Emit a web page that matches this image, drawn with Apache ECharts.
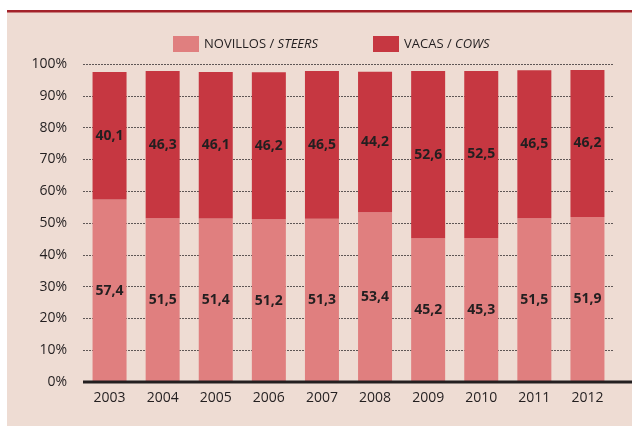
<!DOCTYPE html>
<html><head><meta charset="utf-8">
<script src="https://cdn.jsdelivr.net/npm/echarts@6/dist/echarts.min.js"></script>
<style>html,body{margin:0;padding:0;background:#fff}#c{width:632px;height:426px}</style>
</head><body><div id="c"></div>
<script>
const years = ['2003','2004','2005','2006','2007','2008','2009','2010','2011','2012'];
const steers = [57.4,51.5,51.4,51.2,51.3,53.4,45.2,45.3,51.5,51.9];
const cows = [40.1,46.3,46.1,46.2,46.5,44.2,52.6,52.5,46.5,46.2];
const yTicks = [0,10,20,30,40,50,60,70,80,90,100];

const FONT = 'Open Sans';
const TXT = '#231f20';
const chart = echarts.init(document.getElementById('c'), null, {renderer:'canvas'});
const lbl = {show:true, position:'inside', color:TXT, fontFamily:FONT, fontWeight:'bold', fontSize:14,
  formatter: p => String(p.value).replace('.', ',')};
const legendText = {
  fontFamily:FONT, fontSize:13, color:TXT,
  rich:{a:{fontFamily:FONT,fontSize:13,color:TXT},b:{fontFamily:FONT,fontSize:13,color:TXT,fontStyle:'italic'}}
};
chart.setOption({
  animation:false,
  backgroundColor:'#fff',
  graphic:[
    {type:'rect', z:-10, shape:{x:7,y:12,width:625,height:414}, style:{fill:'#eedcd3'}},
    {type:'rect', z:-9, shape:{x:7,y:10,width:625,height:2.5}, style:{fill:'#a3222a'}},
    {type:'rect', z:50, shape:{x:83,y:380.5,width:549,height:3}, style:{fill:TXT}}
  ],
  legend:[
    {left:168, top:31, itemWidth:26, itemHeight:16, icon:'rect', itemGap:10, data:['NOVILLOS'],
     textStyle:legendText, formatter:()=> '{a|NOVILLOS / }{b|STEERS}'},
    {left:368, top:31, itemWidth:26, itemHeight:16, icon:'rect', itemGap:10, data:['VACAS'],
     textStyle:legendText, formatter:()=> '{a|VACAS / }{b|COWS}'}
  ],
  grid:{left:83, right:18, top:64, bottom:44, containLabel:false},
  xAxis:{type:'category', data:years,
    axisLine:{show:false}, axisTick:{show:false},
    axisLabel:{color:TXT, fontFamily:FONT, fontSize:14, margin:9}},
  yAxis:{type:'value', min:0, max:100, interval:10,
    axisLine:{show:false}, axisTick:{show:false},
    axisLabel:{color:TXT, fontFamily:FONT, fontSize:14, margin:16, formatter: v => yTicks.includes(v) ? v+'%' : ''},
    splitLine:{lineStyle:{color:'#5e5655', type:[2,1], width:1}}},
  series:[
    {name:'NOVILLOS', type:'bar', stack:'t', data:steers, barWidth:34, itemStyle:{color:'#e07f7f'}, label:lbl},
    {name:'VACAS', type:'bar', stack:'t', data:cows, barWidth:34, itemStyle:{color:'#c63741'}, label:lbl}
  ]
});
</script></body></html>
